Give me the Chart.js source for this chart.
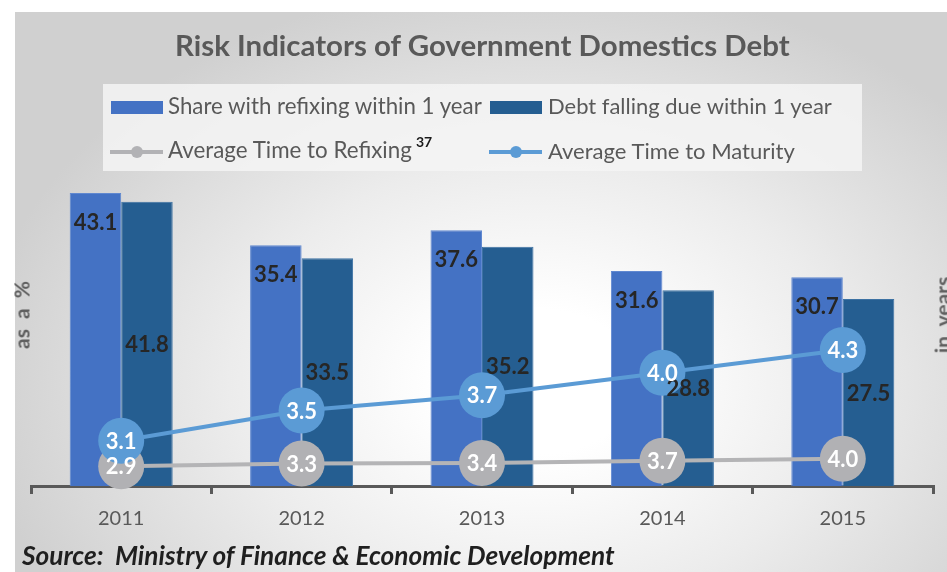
<!DOCTYPE html>
<html lang="en">
<head>
    <meta charset="UTF-8">
    <title>Risk Indicators of Government Domestics Debt</title>
    <script src="https://cdn.jsdelivr.net/npm/chart.js"></script>
    <style>
        body {
            margin: 0;
            background: #fff;
        }
        .wrap {
            position: relative;
            width: 947px;
            height: 572px;
            overflow: hidden;
            background: #fff;
            font-family: Lato, sans-serif;
        }
        .frame {
            position: absolute;
            left: 15px;
            top: 12px;
            width: 932px;
            height: 560px;
            background: radial-gradient(ellipse 60% 72% at 56% 66%, #ffffff 0%, #ffffff 18%, #ececec 55%, #d0d0d0 100%);
        }
        canvas {
            position: absolute;
            left: 0;
            top: 0;
        }
        .txt {
            position: absolute;
            white-space: nowrap;
            line-height: 1.2;
            color: #595959;
        }
        .legend-box {
            position: absolute;
            left: 103px;
            top: 84px;
            width: 759px;
            height: 87px;
            background: rgba(244, 244, 244, 0.85);
        }
        .swatch {
            position: absolute;
            height: 13px;
            width: 52px;
        }
        .lline {
            position: absolute;
            height: 4px;
            width: 53px;
        }
        .ldot {
            position: absolute;
            width: 12px;
            height: 12px;
            border-radius: 50%;
        }
        .vtitle {
            position: absolute;
            white-space: nowrap;
            font-weight: bold;
            font-size: 21px;
            color: #5f5f5f;
            word-spacing: 5px;
            transform: translate(-50%, -50%) rotate(-90deg);
        }
    </style>
</head>
<body>
<div class="wrap">
    <div class="frame"></div>
    <canvas id="debtChart" width="947" height="572"></canvas>

    <div class="txt" id="title" style="font-weight:bold;font-size:26px;" data-x="175" data-cy="45" data-w="615">Risk Indicators of Government Domestics Debt</div>

    <div class="legend-box"></div>
    <div class="swatch" style="left:111px;top:101px;background:#4472C4;"></div>
    <div class="txt" style="font-size:21px;" data-x="168" data-cy="106.5" data-w="314">Share with refixing within 1 year</div>
    <div class="swatch" style="left:490px;top:101px;background:#255E91;"></div>
    <div class="txt" style="font-size:21px;" data-x="548" data-cy="106.5" data-w="284">Debt falling due within 1 year</div>

    <div class="lline" style="left:110px;top:150px;background:#B2B2B5;"></div>
    <div class="ldot" style="left:131px;top:146px;background:#B2B2B5;"></div>
    <div class="txt" style="font-size:21px;" data-x="168" data-cy="151.5" data-w="244">Average Time to Refixing</div>
    <div class="txt" style="font-size:14px;font-weight:bold;color:#1a1a1a;left:416px;top:134px;">37</div>
    <div class="lline" style="left:489px;top:150px;background:#5B9BD5;"></div>
    <div class="ldot" style="left:510px;top:146px;background:#5B9BD5;"></div>
    <div class="txt" style="font-size:21px;" data-x="548" data-cy="151.5" data-w="247">Average Time to Maturity</div>

    <div class="vtitle" style="left:21px;top:315px;">as a %</div>
    <div class="vtitle" style="left:942px;top:315px;">in years</div>

    <div class="txt" style="font-size:22px;font-weight:bold;font-style:italic;color:#1f1f1f;" data-x="22" data-cy="556" data-w="593">Source:&nbsp; Ministry of Finance &amp; Economic Development</div>
</div>

<script>
    const years = ["2011", "2012", "2013", "2014", "2015"];
    const shareRefixing = [43.1, 35.4, 37.6, 31.6, 30.7];
    const debtFallingDue = [41.8, 33.5, 35.2, 28.8, 27.5];
    const avgTimeRefixing = [2.9, 3.3, 3.4, 3.7, 4.0];
    const avgTimeMaturity = [3.1, 3.5, 3.7, 4.0, 4.3];

    // fit html texts to the widths measured on the reference
    document.querySelectorAll(".txt[data-w]").forEach(function (el) {
        let fs = parseFloat(getComputedStyle(el).fontSize);
        const cur = el.getBoundingClientRect().width;
        fs = fs * (+el.dataset.w) / cur;
        el.style.fontSize = fs + "px";
        el.style.left = el.dataset.x + "px";
        el.style.top = (+el.dataset.cy - 0.627 * fs) + "px";
    });

    const valueLabels = {
        id: "valueLabels",
        afterDatasetsDraw(chart) {
            const ctx = chart.ctx;
            ctx.save();
            ctx.textAlign = "center";
            ctx.textBaseline = "middle";
            ctx.font = "bold 22px Lato";
            chart.data.datasets.forEach(function (ds, i) {
                const meta = chart.getDatasetMeta(i);
                meta.data.forEach(function (el, j) {
                    let y = el.y;
                    if (ds.type === "line") {
                        ctx.fillStyle = "#ffffff";
                    } else if (i === 0) {
                        ctx.fillStyle = "#262626";
                        y = el.y + 29;
                    } else {
                        ctx.fillStyle = "#262626";
                        y = (el.y + el.base) / 2;
                    }
                    ctx.fillText(ds.data[j].toFixed(1), el.x, y + 1);
                });
            });
            ctx.restore();
        }
    };

    const ctx = document.getElementById("debtChart").getContext("2d");
    new Chart(ctx, {
        type: "bar",
        data: {
            labels: years,
            datasets: [
                {
                    label: "Share with refixing within 1 year",
                    data: shareRefixing,
                    backgroundColor: "#4472C4",
                    borderColor: "#6088d0",
                    borderWidth: 1,
                    categoryPercentage: 0.571,
                    barPercentage: 1.0,
                    yAxisID: "y",
                    order: 2
                },
                {
                    label: "Debt falling due within 1 year",
                    data: debtFallingDue,
                    backgroundColor: "#255E91",
                    borderColor: "#3d72a3",
                    borderWidth: 1,
                    categoryPercentage: 0.571,
                    barPercentage: 1.0,
                    yAxisID: "y",
                    order: 3
                },
                {
                    type: "line",
                    label: "Average Time to Refixing",
                    data: avgTimeRefixing,
                    borderColor: "#B4B4B6",
                    backgroundColor: "#B1B1B4",
                    borderWidth: 4,
                    pointRadius: 23,
                    pointHoverRadius: 23,
                    pointBorderWidth: 0,
                    pointBackgroundColor: "#B1B1B4",
                    yAxisID: "y",
                    clip: false,
                    order: 1
                },
                {
                    type: "line",
                    label: "Average Time to Maturity",
                    data: avgTimeMaturity,
                    borderColor: "#5B9BD5",
                    backgroundColor: "#5B9BD5",
                    borderWidth: 4,
                    pointRadius: 23,
                    pointHoverRadius: 23,
                    pointBorderWidth: 0,
                    pointBackgroundColor: "#5B9BD5",
                    yAxisID: "y1",
                    clip: false,
                    order: 0
                }
            ]
        },
        options: {
            responsive: false,
            animation: false,
            layout: {
                autoPadding: false,
                padding: { top: 146, left: 31, right: 14, bottom: 36 }
            },
            plugins: {
                legend: { display: false },
                title: { display: false },
                tooltip: { enabled: false }
            },
            scales: {
                x: {
                    grid: {
                        offset: true,
                        drawOnChartArea: false,
                        drawTicks: true,
                        tickLength: 8,
                        color: "#595959",
                        lineWidth: 3
                    },
                    border: { display: true, color: "#595959", width: 3 },
                    ticks: {
                        color: "#595959",
                        font: { family: "Lato", size: 20 },
                        padding: 13
                    },
                    afterFit(scale) {
                        scale.height = 50;
                        scale.paddingLeft = 0;
                        scale.paddingRight = 0;
                    }
                },
                y: {
                    display: false,
                    min: 0,
                    max: 50
                },
                y1: {
                    display: false,
                    position: "right",
                    min: 2.5,
                    max: 7.0
                }
            }
        },
        plugins: [valueLabels]
    });
</script>
</body>
</html>
